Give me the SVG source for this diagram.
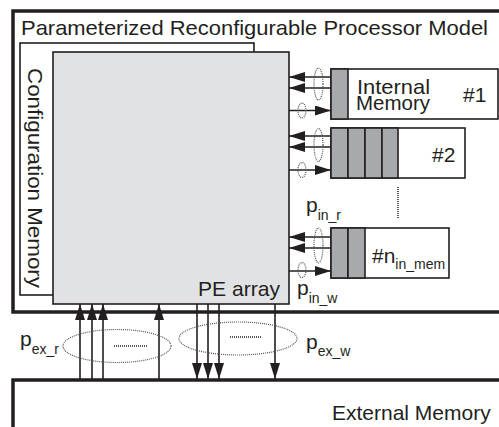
<svg xmlns="http://www.w3.org/2000/svg" width="499" height="427" viewBox="0 0 499 427">
<defs>
<style>
text{font-family:"Liberation Sans",Arial,sans-serif;fill:#231f20}
.t{font-size:21px}
.s{font-size:14px}
.box{fill:#fff;stroke:#231f20;stroke-width:1.6}
.thick{fill:#fff;stroke:#231f20;stroke-width:3.5}
.cell{fill:#a7a9ac;stroke:#231f20;stroke-width:1.6}
.ln{stroke:#231f20;stroke-width:1.6;fill:none}
.dot{fill:none;stroke:#555;stroke-width:1.2;stroke-dasharray:1 1}
.dl{stroke:#555;stroke-width:2;stroke-dasharray:1 1}
</style>
<marker id="ah" viewBox="0 0 16 10" refX="16" refY="5" markerWidth="16" markerHeight="10" markerUnits="userSpaceOnUse" orient="auto">
<path d="M0,0L16,5L0,10z" fill="#231f20"/>
</marker>
</defs>

<g id="processor">
<rect class="thick" x="13" y="11" width="500" height="301"/>
<text class="t" x="21" y="35" textLength="467" lengthAdjust="spacingAndGlyphs">Parameterized Reconfigurable Processor Model</text>
</g>

<g id="config-memory">
<rect class="box" x="20" y="43" width="234" height="252"/>
<text class="t" transform="translate(27.5,68) rotate(90)" textLength="220" lengthAdjust="spacingAndGlyphs">Configuration Memory</text>
</g>

<g id="pe-array">
<rect x="53" y="52" width="236" height="252" fill="#e1e2e4" stroke="#231f20" stroke-width="1.6"/>
<text class="t" x="198" y="296" textLength="82" lengthAdjust="spacingAndGlyphs">PE array</text>
</g>

<g id="mem1">
<rect class="box" x="331" y="69" width="167" height="50"/>
<rect class="cell" x="331" y="69" width="17" height="50"/>
<text class="t" x="357" y="94" font-size="20" textLength="73" lengthAdjust="spacingAndGlyphs">Internal</text>
<text class="t" x="356" y="110" font-size="20" textLength="74" lengthAdjust="spacingAndGlyphs">Memory</text>
<text class="t" x="463" y="102">#1</text>
</g>

<g id="mem2">
<rect class="box" x="331" y="128" width="134" height="50"/>
<rect class="cell" x="331" y="128" width="17" height="50"/>
<rect class="cell" x="348" y="128" width="17" height="50"/>
<rect class="cell" x="365" y="128" width="17" height="50"/>
<rect class="cell" x="382" y="128" width="16" height="50"/>
<text class="t" x="432" y="162">#2</text>
</g>

<line class="dl" x1="398" y1="187" x2="398" y2="219"/>

<g id="memn">
<rect class="box" x="331" y="228" width="118" height="50"/>
<rect class="cell" x="331" y="228" width="17" height="50"/>
<rect class="cell" x="348" y="228" width="17" height="50"/>
<text class="t" x="372" y="263">#n<tspan class="s" dy="6">in_mem</tspan></text>
</g>

<g id="external-memory">
<rect class="thick" x="13" y="380" width="500" height="100"/>
<text class="t" x="332" y="420">External Memory</text>
</g>

<g id="connectors">
<!-- mem1 -->
<line class="ln" x1="331" y1="77" x2="289" y2="77" marker-end="url(#ah)"/>
<line class="ln" x1="331" y1="88" x2="289" y2="88" marker-end="url(#ah)"/>
<line class="ln" x1="289" y1="110.5" x2="331" y2="110.5" marker-end="url(#ah)"/>
<ellipse class="dot" cx="318.5" cy="84" rx="4.5" ry="16"/>
<ellipse class="dot" cx="302" cy="110.5" rx="4" ry="7.5"/>
<!-- mem2 -->
<line class="ln" x1="331" y1="136" x2="289" y2="136" marker-end="url(#ah)"/>
<line class="ln" x1="331" y1="147" x2="289" y2="147" marker-end="url(#ah)"/>
<line class="ln" x1="289" y1="170" x2="331" y2="170" marker-end="url(#ah)"/>
<ellipse class="dot" cx="318.5" cy="145" rx="4.5" ry="16.5"/>
<ellipse class="dot" cx="302" cy="170" rx="4" ry="7.5"/>
<!-- memn -->
<line class="ln" x1="331" y1="237" x2="289" y2="237" marker-end="url(#ah)"/>
<line class="ln" x1="331" y1="248" x2="289" y2="248" marker-end="url(#ah)"/>
<line class="ln" x1="289" y1="271" x2="331" y2="271" marker-end="url(#ah)"/>
<ellipse class="dot" cx="318.5" cy="245.5" rx="4.5" ry="17.5"/>
<ellipse class="dot" cx="302" cy="270" rx="4" ry="7.5"/>
<!-- external read -->
<line class="ln" x1="80" y1="380" x2="80" y2="304" marker-end="url(#ah)"/>
<line class="ln" x1="92" y1="380" x2="92" y2="304" marker-end="url(#ah)"/>
<line class="ln" x1="103" y1="380" x2="103" y2="304" marker-end="url(#ah)"/>
<line class="ln" x1="159" y1="380" x2="159" y2="304" marker-end="url(#ah)"/>
<ellipse class="dot" cx="117" cy="346" rx="54" ry="16.5"/>
<line class="dl" x1="114" y1="346" x2="147" y2="346"/>
<!-- external write -->
<line class="ln" x1="197" y1="304" x2="197" y2="379" marker-end="url(#ah)"/>
<line class="ln" x1="208" y1="304" x2="208" y2="379" marker-end="url(#ah)"/>
<line class="ln" x1="219" y1="304" x2="219" y2="379" marker-end="url(#ah)"/>
<line class="ln" x1="275" y1="304" x2="275" y2="379" marker-end="url(#ah)"/>
<ellipse class="dot" cx="238" cy="338.5" rx="59" ry="16.5"/>
<line class="dl" x1="230" y1="337" x2="262" y2="337"/>
</g>

<g id="labels">
<text class="t" x="306" y="212">p<tspan class="s" dy="8">in_r</tspan></text>
<text class="t" x="297" y="295">p<tspan class="s" dy="8">in_w</tspan></text>
<text class="t" x="20" y="346">p<tspan class="s" dy="8">ex_r</tspan></text>
<text class="t" x="306" y="349">p<tspan class="s" dy="7">ex_w</tspan></text>
</g>
</svg>
